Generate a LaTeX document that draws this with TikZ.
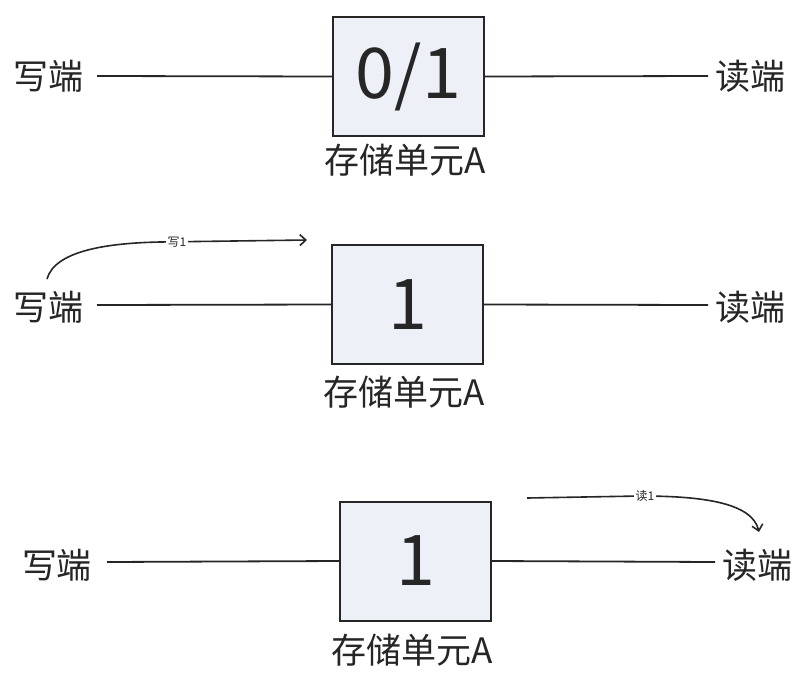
\documentclass[tikz,border=0pt]{standalone}
\usepackage{fontspec}
\setmainfont{Noto Sans CJK SC}
\usetikzlibrary{arrows.meta}
\definecolor{cellfill}{HTML}{EEF0F8}
\definecolor{ink}{HTML}{262626}
\begin{document}
\begin{tikzpicture}[x=1pt,y=-1pt,
  cell/.style={draw=ink,line width=2pt,fill=cellfill,minimum width=151pt,minimum height=119pt,inner sep=0pt,font=\fontsize{70}{72}\selectfont,text=ink},
  port/.style={font=\fontsize{35}{37}\selectfont,text=ink,inner sep=0pt},
  celllabel/.style={font=\fontsize{35}{37}\selectfont,text=ink,inner sep=0pt},
  wire/.style={draw=ink,line width=1.8pt},
  note/.style={font=\fontsize{12}{13}\selectfont,text=ink,fill=white,inner sep=2pt},
  flow/.style={draw=ink,line width=1.6pt,-{Straight Barb[length=6pt,width=11pt]}}]
\useasboundingbox[fill=white] (0,0) rectangle (812,681);
% row 1
\node[cell] (c1) at (408.5,76.5) {0/1};
\node[celllabel] (l1) at (405,160) {存储单元A};
\node[port] (w1) at (48,76) {写端};
\node[port] (r1) at (750,76) {读端};
\coordinate (w1e) at (97,76);
\coordinate (r1e) at (708,76);
\draw[wire] (w1e) -- (c1.west);
\draw[wire] (c1.east) -- (r1e);
% row 2
\node[cell] (c2) at (407.5,304.5) {1};
\node[celllabel] (l2) at (404,392) {存储单元A};
\node[port] (w2) at (48,307) {写端};
\node[port] (r2) at (750,307) {读端};
\coordinate (w2e) at (97,305);
\coordinate (r2e) at (708,305);
\draw[wire] (w2e) -- (c2.west);
\draw[wire] (c2.east) -- (r2e);
\coordinate (a2s) at (47,279);
\coordinate (a2e) at (307,240);
\draw[flow] (a2s) .. controls (55,250) and (110,243) .. (160,242) -- (a2e);
\node[note] (n2) at (177,242) {写1};
% row 3
\node[cell] (c3) at (415.5,561) {1};
\node[celllabel] (l3) at (412,650) {存储单元A};
\node[port] (w3) at (57,565) {写端};
\node[port] (r3) at (757,565) {读端};
\coordinate (w3e) at (107,562);
\coordinate (r3e) at (715,562);
\draw[wire] (w3e) -- (c3.west);
\draw[wire] (c3.east) -- (r3e);
\coordinate (a3s) at (527,498);
\coordinate (a3e) at (759,532);
\draw[flow] (a3s) -- (640,496) .. controls (700,496) and (752,502) .. (a3e);
\node[note] (n3) at (645,496) {读1};
\end{tikzpicture}
\end{document}
